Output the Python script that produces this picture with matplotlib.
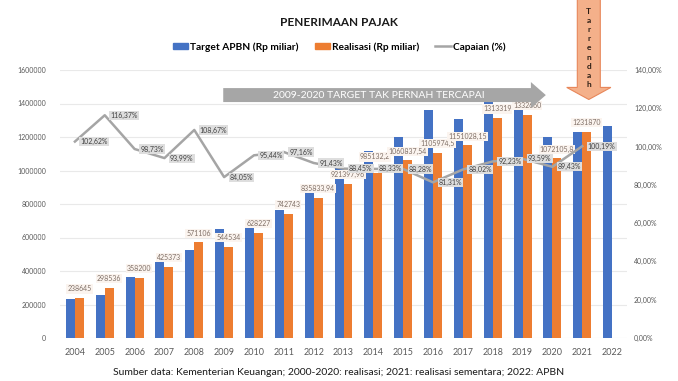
import matplotlib.pyplot as plt
import numpy as np
from matplotlib.patches import FancyArrow, Patch
from matplotlib.lines import Line2D

plt.rcParams['font.family'] = ['Lato', 'DejaVu Sans']

# data (Rp miliar)
years = [str(y) for y in range(2004, 2023)]
target = [232552, 256540, 362808, 452573, 525541, 647869, 658243, 764453, 914179,
          1041716, 1115286, 1201673, 1360195, 1307689, 1423961, 1423929, 1198821,
          1229534, 1265000]
realisasi = [238645, 298536, 358200, 425373, 571106, 544534, 628227, 742743, 835833.94,
             921397.96, 985132.2, 1060837.54, 1105974.5, 1151028.15, 1313319, 1332660,
             1072105.8, 1231870]
capaian = [102.62, 116.37, 98.73, 93.99, 108.67, 84.05, 95.44, 97.16, 91.43,
           88.45, 88.33, 88.28, 81.31, 88.02, 92.23, 93.59, 89.43, 100.19]

blue = '#4472C4'
orange = '#ED7D31'
grey = '#A5A5A5'


def fmt_num(v):
    s = ('%.2f' % v).rstrip('0').rstrip('.')
    return s.replace('.', ',')


fig = plt.figure(figsize=(6.78, 3.81), dpi=100)
ax = fig.add_axes([60/678, 1-338/381, (627-60)/678, (338-70)/381])
ax2 = ax.twinx()

x = np.arange(len(years))
ax.bar(x - 0.15, target, 0.3, color=blue, zorder=2)
ax.bar(x[:len(realisasi)] + 0.15, realisasi, 0.3, color=orange, zorder=2)

# realisasi labels above orange bars (2014 label lifted a bit so it stays readable)
for i, (xi, v) in enumerate(zip(x, realisasi)):
    off = (-2, 9) if years[i] == '2014' else (0, 4)
    ax.annotate(fmt_num(v), (xi + 0.15, v), xytext=off, textcoords='offset points',
                ha='center', va='bottom', fontsize=5, color='#7f6f66', zorder=4,
                bbox=dict(boxstyle='square,pad=0.15', fc='#fbf4ef', ec='none'))

ax.set_xlim(-0.5, len(years) - 0.5)
ax.set_ylim(0, 1600000)
ax.set_yticks(np.arange(0, 1600001, 200000))
ax.set_yticklabels([str(v) for v in range(0, 1600001, 200000)])
ax.set_xticks(x)
ax.set_xticklabels(years)
ax.grid(axis='y', color='#e9e9e9', lw=0.8)
ax.set_axisbelow(True)
ax.tick_params(axis='y', length=0, pad=10, labelsize=5, labelcolor='#595959')
ax.tick_params(axis='x', length=0, pad=7, labelsize=6.5, labelcolor='#595959')

ax2.plot(x[:len(capaian)], capaian, color=grey, lw=1.8, zorder=3)
for xi, c in zip(x, capaian):
    ax2.annotate(('%.2f' % c).replace('.', ',') + '%', (xi, c), xytext=(4, 0),
                 textcoords='offset points', ha='left', va='center', fontsize=5,
                 color='#404040', zorder=4,
                 bbox=dict(boxstyle='square,pad=0.15', fc='#dedede', ec='none'))
ax2.set_ylim(0, 140)
ax2.set_yticks(np.arange(0, 141, 20))
ax2.set_yticklabels([('%.2f' % v).replace('.', ',') + '%' for v in range(0, 141, 20)])
ax2.tick_params(axis='y', length=0, pad=5, labelsize=5, labelcolor='#595959')

for a in (ax, ax2):
    for s in a.spines.values():
        s.set_visible(False)

# grey arrow: target never reached
arr = FancyArrow(4.97, 126.9, 10.81, 0, width=7.3, head_width=13.6, head_length=0.5,
                 length_includes_head=True, fc='#A6A6A6', ec='none', zorder=6,
                 clip_on=False)
ax2.add_patch(arr)
ax2.text(10.2, 126.9, '2009-2020 TARGET TAK PERNAH TERCAPAI', color='white',
         fontsize=7.5, ha='center', va='center', zorder=7)

# down arrow "Tarrendah"
arr2 = FancyArrow(17.22, 177, 0, -52.4, width=0.77, head_width=1.48, head_length=6.3,
                  length_includes_head=True, fc='#F4B08A', ec='#E8875A', lw=0.8,
                  zorder=6, clip_on=False)
ax2.add_patch(arr2)
ax2.text(17.22, 151.5, '\n'.join('Tarrendah'), color='#2b1d14', fontsize=6,
         fontweight='bold', ha='center', va='center', linespacing=1.35, zorder=7)

fig.text(0.5, 0.94, 'PENERIMAAN PAJAK', ha='center', va='center', fontsize=8.5,
         fontweight='bold', color='#1a1a1a')

handles = [Patch(color=blue), Patch(color=orange), Line2D([], [], color=grey, lw=1.8)]
labels = ['Target APBN (Rp miliar)', 'Realisasi (Rp miliar)', 'Capaian (%)']
fig.legend(handles, labels, loc='center', bbox_to_anchor=(0.5, 0.877), ncol=3,
           frameon=False, prop={'weight': 'bold', 'size': 7.3}, handlelength=1.5,
           handleheight=0.6, handletextpad=0.2, columnspacing=1.6)

fig.text(0.5, 0.021, 'Sumber data: Kementerian Keuangan; 2000-2020: realisasi; '
         '2021: realisasi sementara; 2022: APBN', ha='center', va='center',
         fontsize=7.5, color='#1a1a1a')

fig.savefig('out.png', dpi=100)
